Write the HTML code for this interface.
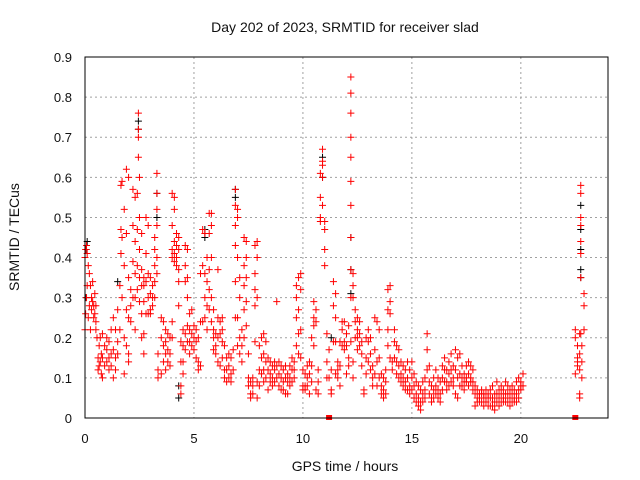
<!DOCTYPE html>
<html><head><meta charset="utf-8"><style>
html,body{margin:0;padding:0;background:#fff;}
svg{display:block;font-family:"Liberation Sans",sans-serif;}
</style></head><body>
<svg id="chart" width="640" height="480" viewBox="0 0 640 480">
<rect width="640" height="480" fill="#fff"/>
<g id="grid"></g>
<g id="ticks"></g>
<g id="black-series"></g>
<g id="red-series"></g>
<rect x="85" y="57" width="523" height="361" fill="none" stroke="#000" stroke-width="1"/>
<text x="345" y="32" text-anchor="middle" font-size="14" fill="#111">Day 202 of 2023, SRMTID for receiver slad</text>
<text x="345" y="471" text-anchor="middle" font-size="14" fill="#111">GPS time / hours</text>
<text transform="translate(19,237) rotate(-90)" text-anchor="middle" font-size="14" fill="#111">SRMTID / TECus</text>
</svg>
<script>
const xTicks=[0,5,10,15,20];
const yTicks=[0,0.1,0.2,0.3,0.4,0.5,0.6,0.7,0.8,0.9];
const yTickLabels=["0","0.1","0.2","0.3","0.4","0.5","0.6","0.7","0.8","0.9"];
const redTimes=[0,0.03,0.07,0.1,0.15,0.2,0.25,0.3,0.35,0.4,0.45,0.5,0.55,0.6,0.65,0.7,0.75,0.8,0.9,1.0,1.1,1.2,1.3,1.4,1.5,1.6,1.65,1.7,1.8,1.9,2.0,2.1,2.2,2.3,2.4,2.45,2.5,2.6,2.7,2.8,2.9,3.0,3.1,3.2,3.3,3.35,3.5,3.6,3.7,3.8,3.9,4.0,4.1,4.2,4.3,4.4,4.5,4.6,4.7,4.8,4.9,5.0,5.1,5.2,5.3,5.4,5.5,5.6,5.7,5.8,5.9,6.0,6.1,6.2,6.3,6.4,6.5,6.6,6.7,6.8,6.9,7.0,7.1,7.2,7.3,7.4,7.5,7.6,7.7,7.8,7.9,8.0,8.1,8.2,8.3,8.4,8.5,8.6,8.7,8.8,8.9,9.0,9.1,9.2,9.3,9.4,9.5,9.6,9.7,9.8,9.9,10.0,10.1,10.2,10.3,10.4,10.5,10.6,10.7,10.8,10.9,11.0,11.1,11.2,11.3,11.4,11.5,11.6,11.7,11.8,11.9,12.0,12.1,12.2,12.3,12.4,12.5,12.6,12.7,12.8,12.9,13.0,13.1,13.2,13.3,13.4,13.5,13.6,13.7,13.8,13.9,14.0,14.1,14.2,14.3,14.4,14.5,14.6,14.7,14.8,14.9,15.0,15.1,15.2,15.3,15.4,15.5,15.6,15.7,15.8,15.9,16.0,16.1,16.2,16.3,16.4,16.5,16.6,16.7,16.8,16.9,17.0,17.1,17.2,17.3,17.4,17.5,17.6,17.7,17.8,17.9,18.0,18.1,18.2,18.3,18.4,18.5,18.6,18.7,18.8,18.9,19.0,19.1,19.2,19.3,19.4,19.5,19.6,19.7,19.8,19.9,20.0,20.1,22.5,22.6,22.7,22.75,22.8,22.9];
const redValues=[[0.40,0.22],[0.42,0.26],[0.43,0.30],[0.41,0.33],[0.38,0.25],[0.36,0.28],[0.33,0.22],[0.30,0.27],[0.29,0.34],[0.28,0.25],[0.26,0.31],[0.24,0.22,0.28],[0.20],[0.15,0.12],[0.18,0.13],[0.14,0.20],[0.16,0.11],[0.21,0.10,0.15],[0.18,0.13],[0.17,0.14,0.20],[0.15,0.12,0.19],[0.22,0.16,0.13],[0.25,0.17,0.10],[0.22,0.15,0.12],[0.19,0.16,0.27],[0.33,0.22],[0.47,0.58,0.41],[0.59,0.45,0.30],[0.52,0.38,0.20,0.11],[0.62,0.46,0.27,0.18],[0.60,0.35,0.25,0.16,0.14],[0.32,0.24,0.28],[0.57,0.48,0.39,0.30],[0.55,0.44,0.36,0.30,0.22],[0.56,0.47,0.38,0.32],[0.70,0.76,0.65,0.72],[0.60,0.50,0.42,0.35,0.29],[0.46,0.37,0.33,0.26,0.20],[0.35,0.33,0.29,0.21,0.16],[0.50,0.41,0.34,0.26],[0.48,0.36,0.30,0.26],[0.35,0.31,0.27,0.26],[0.30,0.33,0.28],[0.45,0.42,0.38,0.34,0.30],[0.61,0.56,0.52,0.48,0.40,0.36],[0.16,0.12,0.10],[0.20,0.25,0.11],[0.24,0.18,0.14],[0.22,0.19,0.16,0.12],[0.21,0.17,0.14],[0.20,0.16,0.13],[0.56,0.48,0.42,0.40,0.24,0.20],[0.55,0.52,0.44,0.41,0.39],[0.46,0.43,0.40,0.38],[0.45,0.42,0.37,0.28,0.34],[0.19,0.14,0.08,0.06],[0.22,0.18,0.14,0.11],[0.43,0.38,0.34,0.21,0.17],[0.42,0.35,0.30,0.23,0.19],[0.26,0.22,0.19,0.16],[0.27,0.21,0.18],[0.23,0.20,0.17],[0.22,0.19,0.15],[0.20,0.14,0.12],[0.36,0.24,0.13],[0.47,0.38,0.24],[0.46,0.36,0.30,0.25],[0.40,0.34,0.28,0.22],[0.51,0.46,0.37,0.32,0.27],[0.51,0.48,0.40,0.30,0.24],[0.27,0.22,0.20,0.17],[0.21,0.18,0.16],[0.37,0.25,0.20,0.14],[0.24,0.21,0.13],[0.25,0.22,0.19,0.15],[0.18,0.12,0.10],[0.15,0.12,0.09],[0.16,0.13,0.10],[0.15,0.11,0.09],[0.17,0.12],[0.57,0.53,0.48,0.43,0.34,0.25],[0.52,0.50,0.40,0.25,0.18],[0.35,0.30,0.20,0.16],[0.22,0.18,0.14],[0.45,0.38,0.33,0.27,0.20],[0.44,0.40,0.35,0.29,0.23],[0.16,0.10,0.08],[0.09,0.06,0.05],[0.10,0.08,0.06],[0.43,0.36,0.32,0.28,0.19],[0.44,0.40,0.30,0.09,0.05],[0.18,0.12,0.08],[0.20,0.15,0.11],[0.21,0.16,0.12,0.09],[0.19,0.14,0.10],[0.15,0.12,0.07],[0.14,0.11,0.09],[0.13,0.10,0.08],[0.14,0.12,0.09],[0.29,0.13,0.10],[0.14,0.11,0.08],[0.13,0.10,0.07],[0.12,0.09,0.07],[0.13,0.10,0.06],[0.11,0.09,0.06],[0.13,0.10,0.08],[0.15,0.12,0.09],[0.14,0.12,0.10],[0.33,0.30,0.25,0.18],[0.35,0.27,0.21,0.16],[0.36,0.32,0.22,0.15],[0.12,0.08,0.07],[0.11,0.08,0.07],[0.13,0.10,0.08],[0.14,0.11,0.06],[0.20,0.13,0.09],[0.29,0.25,0.23,0.18],[0.27,0.24,0.07],[0.12,0.09,0.06],[0.50,0.49,0.61,0.55],[0.67,0.64,0.63,0.60,0.53],[0.49,0.47,0.42,0.38],[0.21,0.14,0.10],[0.17,0.10],[0.12,0.07,0.06],[0.34,0.28,0.19],[0.31,0.25,0.19,0.11],[0.14,0.12,0.10],[0.19,0.13,0.08],[0.24,0.22,0.18],[0.24,0.19,0.17],[0.21,0.18,0.11],[0.23,0.15,0.13],[0.85,0.81,0.76,0.70,0.65,0.59,0.53,0.45,0.37,0.30,0.19],[0.36,0.33,0.30,0.14,0.10],[0.27,0.24,0.20],[0.25,0.22,0.20,0.17],[0.24,0.21,0.18],[0.19,0.16,0.13],[0.07,0.06],[0.20,0.15,0.11],[0.22,0.19,0.14],[0.20,0.16,0.12],[0.13,0.10,0.08],[0.25,0.17,0.11],[0.24,0.14,0.08],[0.22,0.15,0.10],[0.11,0.08,0.06],[0.10,0.07,0.05],[0.12,0.09,0.06],[0.32,0.27,0.22,0.18],[0.33,0.29,0.26,0.15],[0.14,0.12],[0.22,0.19,0.15],[0.18,0.14,0.11],[0.17,0.13,0.10],[0.14,0.11,0.09],[0.13,0.10,0.08],[0.12,0.09,0.07],[0.14,0.10,0.07],[0.12,0.08,0.06],[0.14,0.10,0.07],[0.11,0.08,0.05],[0.09,0.06,0.04],[0.08,0.05,0.03],[0.07,0.04,0.02],[0.09,0.06,0.04],[0.10,0.07,0.05],[0.21,0.17,0.12],[0.13,0.09,0.06],[0.08,0.05,0.04],[0.10,0.07,0.05],[0.12,0.08,0.06],[0.10,0.07,0.05],[0.09,0.06,0.04],[0.13,0.10,0.07],[0.15,0.12,0.09],[0.12,0.09,0.07],[0.14,0.11,0.08],[0.16,0.12,0.09],[0.13,0.10,0.08],[0.17,0.12,0.06],[0.15,0.10,0.05],[0.16,0.11,0.08],[0.13,0.10,0.08],[0.11,0.09,0.07],[0.13,0.10,0.09],[0.14,0.11,0.08],[0.13,0.10,0.09],[0.12,0.09,0.07],[0.08,0.06,0.03],[0.07,0.05,0.04],[0.06,0.05,0.04],[0.07,0.06,0.04],[0.06,0.05,0.03],[0.07,0.05,0.04],[0.06,0.05,0.03],[0.07,0.05,0.03],[0.08,0.05,0.03],[0.06,0.04,0.02],[0.09,0.06,0.04],[0.07,0.05,0.03],[0.08,0.06,0.04],[0.07,0.05,0.04],[0.09,0.06,0.04],[0.08,0.06,0.04],[0.07,0.05,0.03],[0.08,0.06,0.04],[0.07,0.05,0.04],[0.09,0.06,0.04],[0.10,0.07,0.05],[0.09,0.08,0.07],[0.11,0.08],[0.22,0.20,0.11],[0.18,0.15,0.14,0.13],[0.21,0.16,0.12,0.06,0.05],[0.58,0.56,0.50,0.48,0.44,0.41,0.35,0.21],[0.18,0.14,0.10],[0.31,0.28,0.22]];
const blackTimes=[0.05,0.1,1.5,2.45,3.3,4.3,5.5,6.9,10.9,11.3,12.2,22.75];
const blackValues=[[0.30,0.42],[0.44],[0.34],[0.74,0.72],[0.56,0.50],[0.08,0.05],[0.47,0.45],[0.57,0.55],[0.65,0.60],[0.20],[0.45,0.37,0.31],[0.53,0.47,0.42,0.37,0.35]];
const zeroTimes=[11.2,22.5];

const NS="http://www.w3.org/2000/svg";
const X0=85,X1=608,Y0=418,Y1=57,XMAX=24,YMAX=0.9;
function xs(t){return X0+(X1-X0)*t/XMAX;}
function ys(v){return Y0-(Y0-Y1)*v/YMAX;}
const grid=document.getElementById('grid'),ticks=document.getElementById('ticks');
function mk(tag,attrs,parent){const e=document.createElementNS(NS,tag);for(const k in attrs)e.setAttribute(k,attrs[k]);parent.appendChild(e);return e;}
xTicks.forEach(t=>{
  const x=xs(t);
  if(t>0){const g=mk('line',{x1:x,x2:x,y1:Y1,y2:Y0,stroke:'#a0a0a0','stroke-dasharray':'2,3'},grid);
  
  }
  const l=mk('text',{x:x,y:443,'text-anchor':'middle','font-size':'13',fill:'#111'},ticks);l.textContent=t;
  
  
});
yTicks.forEach((v,i)=>{
  const y=ys(v);
  if(v>0&&v<YMAX){const g=mk('line',{x1:X0,x2:X1,y1:y,y2:y,stroke:'#a0a0a0','stroke-dasharray':'2,3'},grid);
  
  }
  const l=mk('text',{x:72,y:y+5,'text-anchor':'end','font-size':'13',fill:'#111'},ticks);l.textContent=yTickLabels[i];
  
  
});
function plus(g,t,v,col){
  const x=xs(t),y=ys(v);
  const p=mk('path',{d:`M${x-3.5},${y}H${x+3.5}M${x},${y-3.5}V${y+3.5}`,stroke:col,'stroke-width':'1',fill:'none'},g);
  
  
}
const bg=document.getElementById('black-series'),rg=document.getElementById('red-series');
blackTimes.forEach((t,i)=>blackValues[i].forEach(v=>plus(bg,t,v,'#000')));
redTimes.forEach((t,i)=>redValues[i].forEach(v=>plus(rg,t,v,'#ff0000')));
zeroTimes.forEach(t=>{
  const r=mk('rect',{x:xs(t)-3,y:ys(0)-3,width:6,height:5,fill:'#ff0000'},rg);
  
  
});
</script>
</body></html>
